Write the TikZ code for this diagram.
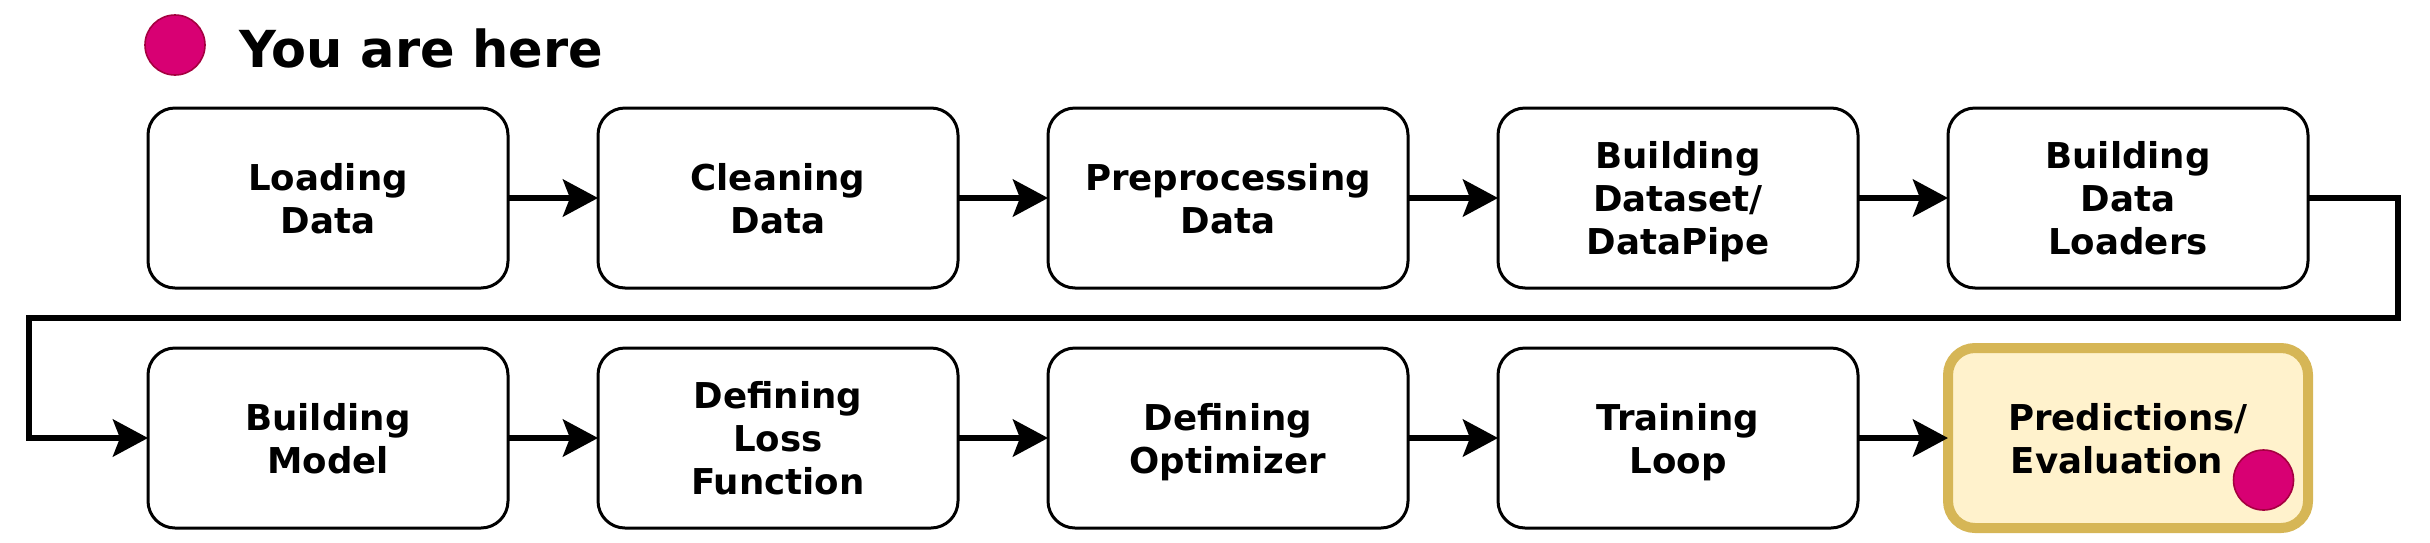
\documentclass[tikz,border=0pt]{standalone}
\usepackage{fontspec}
\setmainfont{DejaVu Sans}
\usetikzlibrary{positioning,arrows.meta}
\definecolor{herefill}{HTML}{D80073}
\definecolor{hereline}{HTML}{A50040}
\definecolor{goldfill}{HTML}{FFF2CC}
\definecolor{goldline}{HTML}{D6B656}
\begin{document}
\begin{tikzpicture}[node distance=45pt and 45pt,
stagebox/.style={draw, line width=1.5pt, outer sep=0pt, rounded corners=13.5pt, minimum width=180pt, minimum height=90pt,
  align=center, text depth=0pt, font=\fontsize{17.8}{21.5}\selectfont\bfseries},
herebox/.style={stagebox, draw=goldline, fill=goldfill, line width=5pt},
flow/.style={line width=3pt, -{Stealth[length=17.5pt,width=18.5pt,inset=3.5pt]}},
dot/.style={circle, fill=herefill, draw=hereline, line width=0.8pt, minimum size=30pt, inner sep=0pt}]
\useasboundingbox (0,0) rectangle (1215pt,-271pt);
% legend
\node[dot] (legenddot) at (87.5pt,-22.5pt) {};
\node[anchor=base west, inner sep=0pt, font=\fontsize{25.5}{30}\selectfont\bfseries] (legend) at (119.5pt,-33.5pt) {You are here};
% first row
\node[stagebox] (loading) at (164pt,-99pt) {Loading\\Data};
\node[stagebox, right=of loading] (cleaning) {Cleaning\\Data};
\node[stagebox, right=of cleaning] (preproc) {Preprocessing\\Data};
\node[stagebox, right=of preproc] (dataset) {Building\\Dataset/\\DataPipe};
\node[stagebox, right=of dataset] (loaders) {Building\\Data\\Loaders};
% second row
\node[stagebox, below=30pt of loading] (model) {Building\\Model};
\node[stagebox, right=of model] (loss) {Defining\\Loss\\Function};
\node[stagebox, right=of loss] (optim) {Defining\\Optimizer};
\node[stagebox, right=of optim] (training) {Training\\Loop};
\node[herebox, right=of training] (evaluation) {Predictions/\\Evaluation\rule{11pt}{0pt}};
\node[dot] (heredot) at ([shift={(67.75pt,-21pt)}]evaluation.center) {};
% connectors
\draw[flow] (loading) -- (cleaning);
\draw[flow] (cleaning) -- (preproc);
\draw[flow] (preproc) -- (dataset);
\draw[flow] (dataset) -- (loaders);
\draw[flow] (loaders.east) -- ++(45pt,0) -- ++(0,-60pt) -| ([xshift=-59.5pt]model.west) -- (model.west);
\draw[flow] (model) -- (loss);
\draw[flow] (loss) -- (optim);
\draw[flow] (optim) -- (training);
\draw[flow] (training) -- (evaluation);
\end{tikzpicture}
\end{document}
